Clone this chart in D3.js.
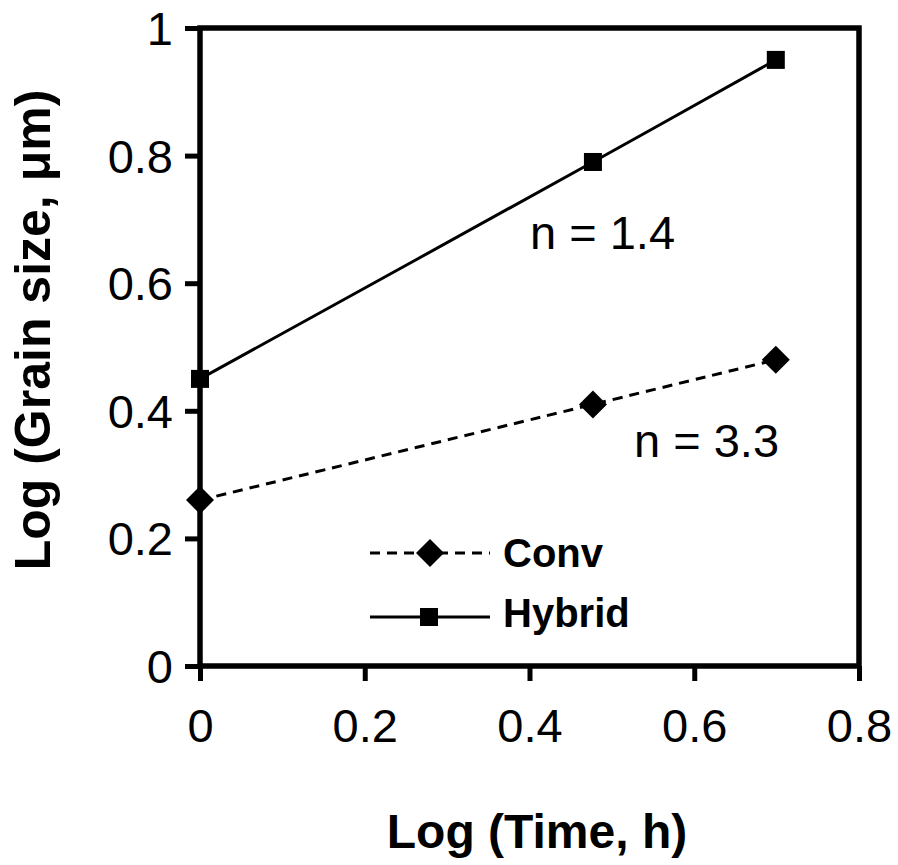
<!DOCTYPE html>
<html>
<head>
<meta charset="utf-8">
<script src="https://cdn.jsdelivr.net/npm/d3@7"></script>
<style>
  body { margin: 0; background: #fff; }
  svg { display: block; font-family: "Liberation Sans", Arial, sans-serif; }
</style>
</head>
<body>
<svg width="898" height="865"></svg>
<script>
// data
const logTime = [0, 0.477, 0.699];
const convVals = [0.26, 0.41, 0.48];
const hybridVals = [0.45, 0.79, 0.95];
const xTicks = [0, 0.2, 0.4, 0.6, 0.8];
const yTicks = [0, 0.2, 0.4, 0.6, 0.8, 1];

const svg = d3.select('svg');

const x = d3.scaleLinear().domain([0, 0.8]).range([200, 859]);
const y = d3.scaleLinear().domain([0, 1]).range([666, 28]);

/* frame */
svg.append('rect')
    .attr('x', x(0))
    .attr('y', y(1))
    .attr('width', x(0.8) - x(0))
    .attr('height', y(0) - y(1))
    .attr('fill', 'none')
    .attr('stroke', '#000')
    .attr('stroke-width', 5.5);

/* axes */
const yAxis = d3.axisLeft(y).tickValues(yTicks).tickSize(15).tickPadding(12)
    .tickFormat(d3.format('~g'));
const xAxis = d3.axisBottom(x).tickValues(xTicks).tickSize(15).tickPadding(28)
    .tickFormat(d3.format('~g'));

const gy = svg.append('g').attr('transform', `translate(${x(0)},0)`).call(yAxis);
const gx = svg.append('g').attr('transform', `translate(0,${y(0)})`).call(xAxis);

[gx, gy].forEach(g => {
    g.select('.domain').remove();
    g.selectAll('.tick line').attr('stroke', '#000').attr('stroke-width', 5);
    g.selectAll('.tick text')
        .attr('fill', '#000')
        .style('font-family', '"Liberation Sans", Arial, sans-serif')
        .style('font-size', '47px');
});
gy.selectAll('.tick text').attr('dy', '0.35em');

/* series */
const line = d3.line()
    .x((d, i) => x(logTime[i]))
    .y(d => y(d))
    .curve(d3.curveCatmullRom);

svg.append('path')
    .datum(convVals)
    .attr('d', line)
    .attr('fill', 'none')
    .attr('stroke', '#000')
    .attr('stroke-width', 3)
    .attr('stroke-dasharray', '10,7');

svg.append('path')
    .datum(hybridVals)
    .attr('d', line)
    .attr('fill', 'none')
    .attr('stroke', '#000')
    .attr('stroke-width', 3);

const diamond = 'M0,-14L14,0L0,14L-14,0Z';

svg.selectAll('.conv')
    .data(convVals)
    .join('path')
    .attr('class', 'conv')
    .attr('transform', (d, i) => `translate(${x(logTime[i])},${y(d)})`)
    .attr('d', diamond)
    .attr('fill', '#000');

svg.selectAll('.hyb')
    .data(hybridVals)
    .join('rect')
    .attr('class', 'hyb')
    .attr('x', (d, i) => x(logTime[i]) - 9)
    .attr('y', d => y(d) - 9)
    .attr('width', 18)
    .attr('height', 18)
    .attr('fill', '#000');

/* annotations */
svg.append('text').attr('x', 530).attr('y', 249)
    .style('font-size', '47px').text('n = 1.4');
svg.append('text').attr('x', 634).attr('y', 457)
    .style('font-size', '47px').text('n = 3.3');

/* legend */
const legend = svg.append('g');
legend.append('line').attr('x1', 370).attr('x2', 490).attr('y1', 553).attr('y2', 553)
    .attr('stroke', '#000').attr('stroke-width', 3).attr('stroke-dasharray', '10,7');
legend.append('path').attr('transform', 'translate(430,553)').attr('d', diamond).attr('fill', '#000');
legend.append('text').attr('x', 503).attr('y', 567)
    .style('font-size', '40px').style('font-weight', 'bold').text('Conv');

legend.append('line').attr('x1', 370).attr('x2', 490).attr('y1', 617).attr('y2', 617)
    .attr('stroke', '#000').attr('stroke-width', 3);
legend.append('rect').attr('x', 420).attr('y', 608).attr('width', 18).attr('height', 18).attr('fill', '#000');
legend.append('text').attr('x', 503).attr('y', 627)
    .style('font-size', '40px').style('font-weight', 'bold').text('Hybrid');

/* axis titles */
svg.append('text')
    .attr('x', 537)
    .attr('y', 848)
    .attr('text-anchor', 'middle')
    .style('font-size', '48px').style('font-weight', 'bold')
    .text('Log (Time, h)');

svg.append('text')
    .attr('transform', 'translate(50,330) rotate(-90)')
    .attr('text-anchor', 'middle')
    .style('font-size', '50px').style('font-weight', 'bold')
    .text('Log (Grain size, μm)');
</script>
</body>
</html>
